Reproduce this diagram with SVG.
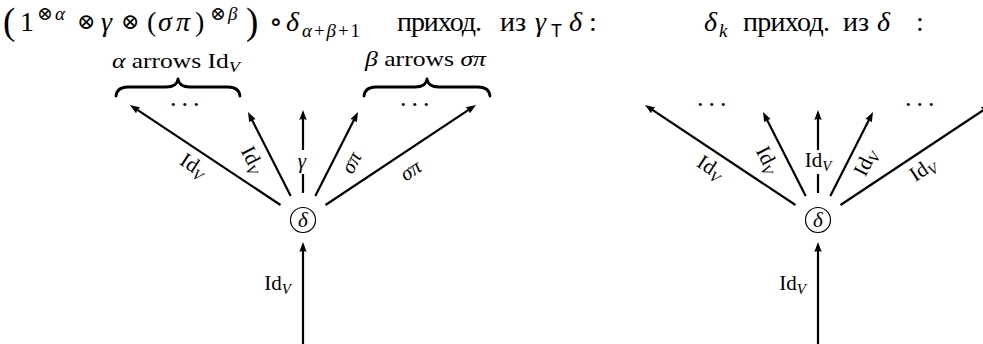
<svg xmlns="http://www.w3.org/2000/svg" width="983" height="344" viewBox="0 0 983 344">
<style>
text{font-family:"Liberation Serif","DejaVu Serif",serif;fill:#000}
.t{font-size:28px}
.op{font-size:22px}
.sup{font-size:19px}
.it{font-style:italic}
.big{font-size:37px}
.lbl{font-size:21px}
.sub{font-size:15px;font-style:italic}
.bl{font-size:21px}
.sf{font-family:"Liberation Sans","DejaVu Sans",sans-serif;font-size:18px}
.e{stroke:#000;stroke-width:2.2;fill:none;marker-end:url(#ah)}
.br{stroke:#000;stroke-width:2.8;fill:none;stroke-linecap:round;stroke-linejoin:round}
.nd{fill:#fff;stroke:#000;stroke-width:1.2}
.dots{font-size:26px;letter-spacing:5px}
</style>
<defs>
<marker id="ah" markerUnits="userSpaceOnUse" markerWidth="12" markerHeight="10" refX="6" refY="4" orient="auto">
<path d="M0,0.3 L10,4 L0,7.7 Q2,4 0,0.3 z" fill="#000"/>
</marker>
</defs>

<g id="title-left">
<text class="big" x="3" y="34">(</text>
<text class="t" x="20" y="31">1</text>
<text class="sup" x="37" y="20">⊗<tspan class="it" x="55">α</tspan></text>
<text class="op" x="77" y="29">⊗</text>
<text class="t it" x="101" y="31">γ</text>
<text class="op" x="121" y="29">⊗</text>
<text class="t" x="147" y="31" font-size="30">(</text>
<text class="t it" x="158" y="31" font-size="30">σ</text>
<text class="t it" x="176" y="31" font-size="30">π</text>
<text class="t" x="195" y="31" font-size="30">)</text>
<text class="sup" x="210" y="20">⊗<tspan class="it" x="228">β</tspan></text>
<text class="big" x="246" y="34">)</text>
<text class="t" x="269" y="31">∘</text>
<text class="t it" x="286" y="31">δ</text>
<text class="sup it" x="302" y="37" textLength="58" lengthAdjust="spacing">α<tspan font-style="normal">+</tspan>β<tspan font-style="normal">+1</tspan></text>
<text class="t" x="397" y="31" textLength="85" lengthAdjust="spacing">приход.</text>
<text class="t" x="500" y="31" textLength="26" lengthAdjust="spacing">из</text>
<text class="t it" x="535" y="31">γ</text>
<text class="sf" x="551" y="37">T</text>
<text class="t it" x="569" y="31">δ</text>
<text class="t" x="589" y="31">:</text>
</g>

<g id="title-right">
<text class="t it" x="704" y="31">δ</text>
<text class="sup it" x="719" y="37">k</text>
<text class="t" x="743" y="31" textLength="87" lengthAdjust="spacing">приход.</text>
<text class="t" x="843" y="31" textLength="26" lengthAdjust="spacing">из</text>
<text class="t it" x="877" y="31">δ</text>
<text class="t" x="916" y="31">:</text>
</g>

<g id="brace-alpha">
<text class="bl" x="112" y="68" textLength="128" lengthAdjust="spacingAndGlyphs"><tspan class="it">α</tspan> arrows Id<tspan class="it" font-size="15" dy="4">V</tspan></text>
<path class="br" d="M116,96 Q117,87 128,87 L166,87 Q177,87 178,79 Q179,87 190,87 L228,87 Q239,87 240,96"/>
</g>
<g id="brace-beta">
<text class="bl" x="365" y="66" textLength="121" lengthAdjust="spacingAndGlyphs"><tspan class="it">β</tspan> arrows <tspan class="it">σπ</tspan></text>
<path class="br" d="M364,96 Q365,87 376,87 L415,87 Q426,87 427,79 Q428,87 439,87 L478,87 Q489,87 490,96"/>
</g>

<g id="dots">
<text class="dots" x="170" y="106">...</text>
<text class="dots" x="400" y="106">...</text>
<text class="dots" x="697" y="106">...</text>
<text class="dots" x="905" y="106">...</text>
</g>

<g id="connectors">
<line class="e" x1="280.5" y1="205" x2="133.3" y2="107.2"/>
<line class="e" x1="290.7" y1="195.9" x2="249.8" y2="115.6"/>
<line class="e" x1="303" y1="193" x2="303" y2="114"/>
<line class="e" x1="315.3" y1="195.9" x2="356.2" y2="115.6"/>
<line class="e" x1="325.5" y1="205" x2="472.7" y2="107.2"/>
<line class="e" x1="303" y1="344" x2="303" y2="246"/>
<line class="e" x1="795.5" y1="205" x2="648.3" y2="107.2"/>
<line class="e" x1="805.7" y1="195.9" x2="764.8" y2="115.6"/>
<line class="e" x1="818" y1="193" x2="818" y2="114"/>
<line class="e" x1="830.3" y1="195.9" x2="871.2" y2="115.6"/>
<line class="e" x1="840.5" y1="205" x2="987.7" y2="107.2"/>
<line class="e" x1="818" y1="344" x2="818" y2="246"/>
</g>

<g id="edge-labels">
<text class="lbl" transform="translate(193,166) rotate(33.6)" x="0" y="6" text-anchor="middle">Id<tspan class="sub" dy="4">V</tspan></text>
<text class="lbl" transform="translate(252,160) rotate(63)" x="0" y="6" text-anchor="middle">Id<tspan class="sub" dy="4">V</tspan></text>
<rect x="294" y="150" width="18" height="24" fill="#fff"/>
<text class="lbl it" x="302" y="168" text-anchor="middle">γ</text>
<text class="lbl it" transform="translate(352,163) rotate(-63)" x="0" y="6" text-anchor="middle">σπ</text>
<text class="lbl it" transform="translate(411,171) rotate(-33.6)" x="0" y="6" text-anchor="middle">σπ</text>
<text class="lbl" x="291" y="290" text-anchor="end">Id<tspan class="sub" dy="4">V</tspan></text>

<text class="lbl" transform="translate(710,168) rotate(33.6)" x="0" y="6" text-anchor="middle">Id<tspan class="sub" dy="4">V</tspan></text>
<text class="lbl" transform="translate(767,160) rotate(63)" x="0" y="6" text-anchor="middle">Id<tspan class="sub" dy="4">V</tspan></text>
<rect x="800" y="150" width="37" height="24" fill="#fff"/>
<text class="lbl" x="818" y="167" text-anchor="middle">Id<tspan class="sub" dy="4">V</tspan></text>
<text class="lbl" transform="translate(866,163) rotate(-63)" x="0" y="6" text-anchor="middle">Id<tspan class="sub" dy="4">V</tspan></text>
<text class="lbl" transform="translate(923,170) rotate(-33.6)" x="0" y="6" text-anchor="middle">Id<tspan class="sub" dy="4">V</tspan></text>
<text class="lbl" x="806" y="290" text-anchor="end">Id<tspan class="sub" dy="4">V</tspan></text>
</g>

<g id="node-left">
<circle class="nd" cx="303" cy="220" r="12.5"/>
<text class="lbl it" x="303" y="227" text-anchor="middle">δ</text>
</g>
<g id="node-right">
<circle class="nd" cx="818" cy="220" r="12.5"/>
<text class="lbl it" x="818" y="227" text-anchor="middle">δ</text>
</g>
</svg>
